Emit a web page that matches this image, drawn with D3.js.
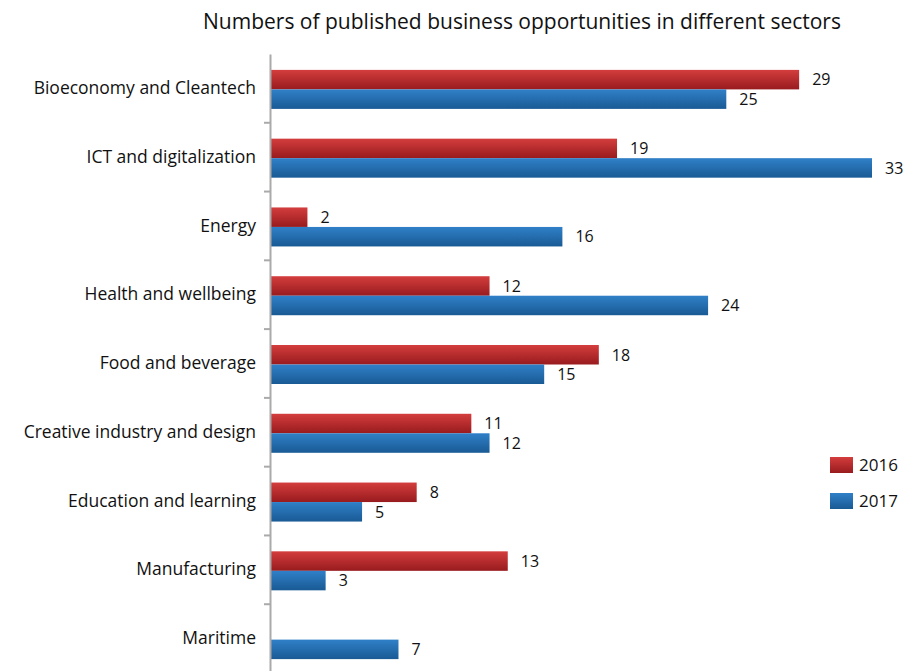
<!DOCTYPE html>
<html>
<head>
<meta charset="utf-8">
<script src="https://cdn.jsdelivr.net/npm/d3@7"></script>
<style>
  body { margin: 0; background: #fff; }
  svg { display: block; font-family: "Open Sans", "Noto Sans", sans-serif; }
</style>
</head>
<body>
<svg id="chart" width="904" height="671"></svg>
<script>
const categories = [
  "Bioeconomy and Cleantech",
  "ICT and digitalization",
  "Energy",
  "Health and wellbeing",
  "Food and beverage",
  "Creative industry and design",
  "Education and learning",
  "Manufacturing",
  "Maritime"
];
const seriesNames = ["2016", "2017"];
const values2016 = [29, 19, 2, 12, 18, 11, 8, 13, null];
const values2017 = [25, 33, 16, 24, 15, 12, 5, 3, 7];

const svg = d3.select("#chart");
const margin = { top: 54, left: 271 };
const plotBottom = 673;

const defs = svg.append("defs");
const grads = [
  { id: "g2016", top: "#d43d3d", bottom: "#981b1e" },
  { id: "g2017", top: "#3080c8", bottom: "#195a94" }
];
grads.forEach(g => {
  const lg = defs.append("linearGradient").attr("id", g.id)
    .attr("x1", 0).attr("y1", 0).attr("x2", 0).attr("y2", 1);
  lg.append("stop").attr("offset", "0%").attr("stop-color", g.top);
  lg.append("stop").attr("offset", "100%").attr("stop-color", g.bottom);
});

const y = d3.scaleBand().domain(categories).range([margin.top, plotBottom]).paddingInner(0).paddingOuter(0);
const x = d3.scaleLinear().domain([0, 33]).range([margin.left, 872]);
const barH = 19.5;

const rows = categories.map((c, i) => ({ cat: c, v: [values2016[i], values2017[i]] }));

const g = svg.append("g");
rows.forEach(r => {
  const mid = y(r.cat) + y.bandwidth() / 2 + 1;
  r.v.forEach((v, k) => {
    if (v == null) return;
    const top = mid - barH + k * barH;
    g.append("rect")
      .attr("x", x(0)).attr("y", top)
      .attr("width", x(v) - x(0)).attr("height", barH)
      .attr("fill", `url(#${grads[k].id})`);
    g.append("text")
      .attr("x", x(v) + 13).attr("y", top + barH / 2)
      .attr("dy", "0.36em")
      .attr("font-size", 16).attr("fill", "#111")
      .text(v);
  });
});

// Category axis on the left
const axis = d3.axisLeft(y).tickSize(0).tickPadding(14);
const ax = svg.append("g").attr("transform", `translate(${margin.left - 1},0)`).call(axis);
ax.select(".domain").attr("stroke", "#aaa").attr("stroke-width", 2);
ax.selectAll("text").attr("font-size", 17.5).attr("fill", "#111")
  .attr("font-family", "\"Open Sans\", sans-serif");

// Tick marks between categories
const boundaries = categories.slice(1).map(c => y(c));
svg.append("g").selectAll("line").data(boundaries).join("line")
  .attr("x1", margin.left - 7).attr("x2", margin.left - 1)
  .attr("y1", d => d).attr("y2", d => d)
  .attr("stroke", "#aaa").attr("stroke-width", 2);

// Title
svg.append("text")
  .attr("x", 522).attr("y", 29)
  .attr("text-anchor", "middle")
  .attr("font-size", 21).attr("fill", "#111")
  .text("Numbers of published business opportunities in different sectors");

// Legend
const legend = svg.append("g");
seriesNames.forEach((s, k) => {
  const ly = 457 + k * 36;
  legend.append("rect").attr("x", 830).attr("y", ly).attr("width", 23).attr("height", 16)
    .attr("fill", `url(#${grads[k].id})`);
  legend.append("text").attr("x", 859).attr("y", ly + 8).attr("dy", "0.36em")
    .attr("font-size", 17).attr("fill", "#111").text(s);
});
</script>
</body>
</html>
